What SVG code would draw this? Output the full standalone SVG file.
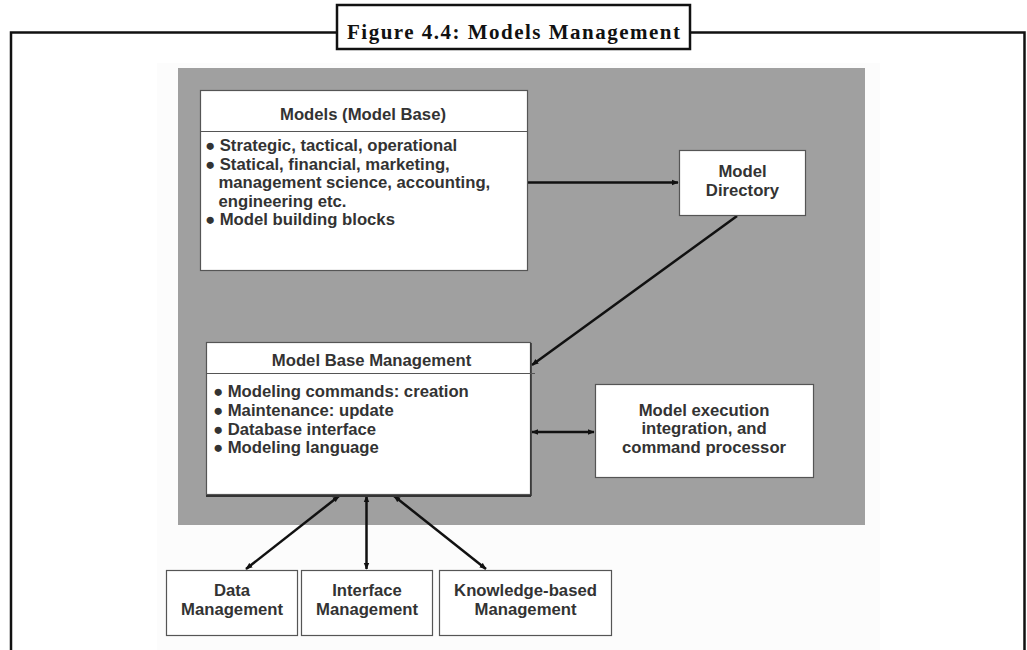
<svg xmlns="http://www.w3.org/2000/svg" width="1027" height="650" viewBox="0 0 1027 650">
<defs>
<marker id="ah" viewBox="0 0 10 10" refX="9" refY="5" markerWidth="7" markerHeight="7" orient="auto-start-reverse" markerUnits="userSpaceOnUse">
<path d="M0,1 L10,5 L0,9 Z" fill="#111"/>
</marker>
<style>
.frame{fill:none;stroke:#111;stroke-width:2.5}
.box{fill:#fff;stroke:#555;stroke-width:1.2}
.t{font-family:"Liberation Sans",Arial,sans-serif;font-weight:bold;font-size:16.7px;fill:#333}
.c{text-anchor:middle}
.con{stroke:#111;stroke-width:2.5;fill:none}
</style>
</defs>
<rect width="1027" height="650" fill="#fff"/>
<g id="frame">
<path class="frame" d="M11,650 V32.5 H337 M690,32.5 H1024.5 V650"/>
<rect x="337" y="5" width="353" height="44" fill="#fff" stroke="#111" stroke-width="2.5"/>
<text x="347" y="39" font-family="'Liberation Serif','Times New Roman',serif" font-weight="bold" font-size="21" fill="#111" textLength="333" lengthAdjust="spacing">Figure 4.4: Models Management</text>
</g>
<rect x="157" y="63" width="723" height="587" fill="#fcfcfc"/>
<rect x="178" y="68" width="687" height="457" fill="#a0a0a0"/>
<g id="connectors">
<line class="con" x1="528" y1="182.5" x2="678" y2="182.5" marker-end="url(#ah)"/>
<line class="con" x1="737" y1="216" x2="532" y2="365" marker-end="url(#ah)"/>
<line class="con" x1="532" y1="432" x2="594" y2="432" marker-start="url(#ah)" marker-end="url(#ah)"/>
<line class="con" x1="246" y1="569" x2="339" y2="496" marker-start="url(#ah)" marker-end="url(#ah)"/>
<line class="con" x1="366.5" y1="569" x2="366.5" y2="496" marker-start="url(#ah)" marker-end="url(#ah)"/>
<line class="con" x1="486" y1="569" x2="394" y2="496" marker-start="url(#ah)" marker-end="url(#ah)"/>
</g>
<g id="models">
<rect class="box" x="200.5" y="90.5" width="327" height="180"/>
<line x1="200.5" y1="131.5" x2="527.5" y2="131.5" stroke="#555" stroke-width="1.2"/>
<text class="t c" x="363" y="120">Models (Model Base)</text>
<text class="t" x="205" y="151">● Strategic, tactical, operational</text>
<text class="t" x="205" y="169.5">● Statical, financial, marketing,</text>
<text class="t" x="218.5" y="188">management science, accounting,</text>
<text class="t" x="218.5" y="206.5">engineering etc.</text>
<text class="t" x="205" y="225">● Model building blocks</text>
</g>
<g id="model-directory">
<rect class="box" x="679.5" y="150.5" width="126" height="65"/>
<text class="t c" x="742.5" y="176.5">Model</text>
<text class="t c" x="742.5" y="195.5">Directory</text>
</g>
<g id="model-base-management">
<rect class="box" x="206.5" y="342.5" width="324" height="152"/>
<line x1="206" y1="496" x2="531" y2="496" stroke="#333" stroke-width="2"/>
<line x1="531" y1="343" x2="531" y2="496" stroke="#333" stroke-width="1.5"/>
<line x1="206.5" y1="373.5" x2="535" y2="373.5" stroke="#555" stroke-width="1.2"/>
<text class="t c" x="371.5" y="365.5">Model Base Management</text>
<text class="t" x="213" y="397">● Modeling commands: creation</text>
<text class="t" x="213" y="416">● Maintenance: update</text>
<text class="t" x="213" y="434.5">● Database interface</text>
<text class="t" x="213" y="453">● Modeling language</text>
</g>
<g id="model-execution">
<rect class="box" x="595.5" y="384.5" width="218" height="93"/>
<text class="t c" x="704" y="415.5">Model execution</text>
<text class="t c" x="704" y="434">integration, and</text>
<text class="t c" x="704" y="452.5">command processor</text>
</g>
<g id="data-management">
<rect class="box" x="166.5" y="570.5" width="131" height="65"/>
<text class="t c" x="232" y="596">Data</text>
<text class="t c" x="232" y="614.5">Management</text>
</g>
<g id="interface-management">
<rect class="box" x="301.5" y="570.5" width="131" height="65"/>
<text class="t c" x="367" y="596">Interface</text>
<text class="t c" x="367" y="614.5">Management</text>
</g>
<g id="knowledge-management">
<rect class="box" x="439.5" y="570.5" width="172" height="65"/>
<text class="t c" x="525.5" y="596">Knowledge-based</text>
<text class="t c" x="525.5" y="614.5">Management</text>
</g>
</svg>
